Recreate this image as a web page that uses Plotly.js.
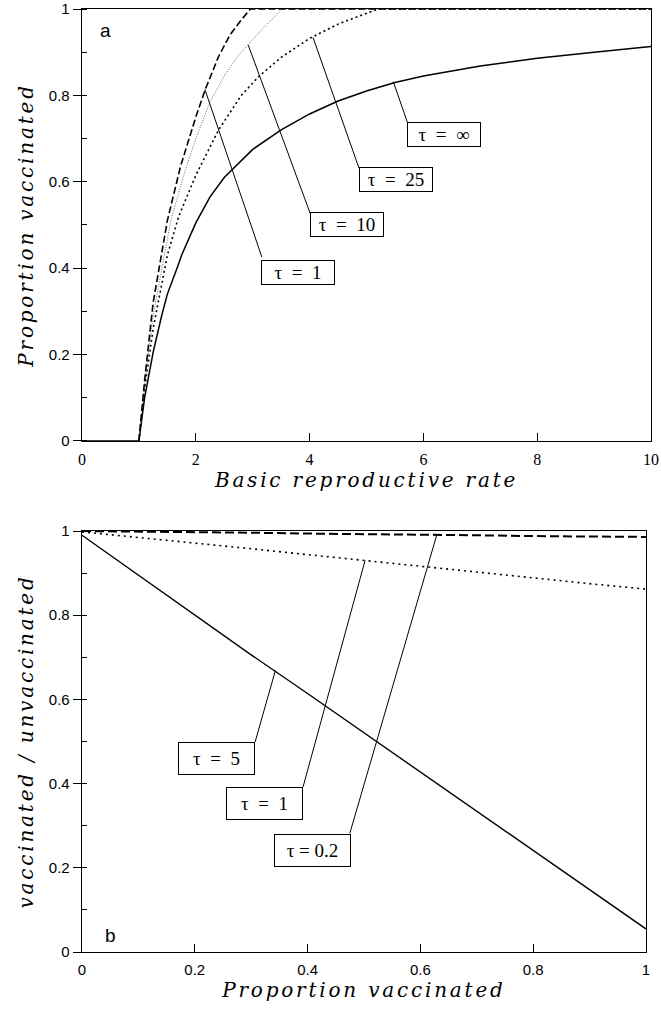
<!DOCTYPE html>
<html>
<head>
<meta charset="utf-8">
<script src="https://cdn.plot.ly/plotly-3.0.1.min.js"></script>
<style>
  html, body { margin: 0; padding: 0; background: #fff; }
  #chart { width: 661px; height: 1010px; }
  text.xtitle, text.x2title, text.ytitle, text.y2title { letter-spacing: 2.8px; }
</style>
</head>
<body>
<div id="chart"></div>
<script>
// ---------- Panel a : proportion vaccinated vs basic reproductive rate ----------
const a_R0_tauInf = [0, 1, 1.1, 1.25, 1.4, 1.5, 1.67, 1.75, 2, 2.25, 2.5, 3, 3.5, 4, 4.5, 5, 5.5, 6, 7, 8, 9, 10];
const a_P_tauInf  = [0, 0, 0.10, 0.205, 0.29, 0.34, 0.40, 0.43, 0.505, 0.565, 0.61, 0.675, 0.72, 0.757, 0.787, 0.81, 0.83, 0.845, 0.868, 0.886, 0.90, 0.913];

const a_R0_tau25 = [1, 1.1, 1.25, 1.5, 1.7, 2, 2.4, 2.8, 3.1, 3.5, 4, 4.5, 5, 5.2, 10];
const a_P_tau25  = [0, 0.12, 0.26, 0.43, 0.52, 0.615, 0.72, 0.80, 0.843, 0.888, 0.932, 0.965, 0.99, 1, 1];

const a_R0_tau10 = [1, 1.1, 1.25, 1.56, 1.8, 2, 2.25, 2.5, 2.75, 2.92, 3.2, 3.52, 10];
const a_P_tau10  = [0, 0.13, 0.29, 0.51, 0.62, 0.70, 0.785, 0.845, 0.893, 0.917, 0.958, 1, 1];

const a_R0_tau1 = [1, 1.1, 1.25, 1.5, 1.73, 2, 2.17, 2.4, 2.6, 2.8, 2.96, 10];
const a_P_tau1  = [0, 0.14, 0.32, 0.51, 0.635, 0.75, 0.815, 0.89, 0.94, 0.975, 1, 1];

// labels of panel a: text, box centre, leader (box corner -> curve point)
const a_labels      = ['τ  =  1', 'τ  =  10', 'τ  =  25', 'τ  =  ∞'];
const a_labelX      = [3.79, 4.66, 5.52, 6.37];
const a_labelY      = [0.389, 0.50, 0.605, 0.710];
const a_leadFromX   = [3.16, 4.01, 4.87, 5.72];
const a_leadFromY   = [0.426, 0.527, 0.631, 0.737];
const a_leadToX     = [2.16, 2.92, 4.06, 5.47];
const a_leadToY     = [0.814, 0.917, 0.934, 0.832];

// ---------- Panel b : vaccinated / unvaccinated vs proportion vaccinated ----------
const b_P = [0, 0.1, 0.2, 0.3, 0.4, 0.5, 0.6, 0.7, 0.8, 0.9, 1.0];
const b_tau5  = [0.99, 0.895, 0.80, 0.706, 0.614, 0.521, 0.428, 0.336, 0.243, 0.149, 0.055];
const b_tau1  = [0.998, 0.985, 0.972, 0.958, 0.944, 0.93, 0.916, 0.902, 0.888, 0.875, 0.862];
const b_tau02 = [1.0, 0.999, 0.997, 0.996, 0.994, 0.993, 0.991, 0.99, 0.988, 0.987, 0.986];

const b_labels      = ['τ  =  5', 'τ  =  1', 'τ = 0.2'];
const b_labelX      = [0.238, 0.323, 0.408];
const b_labelY      = [0.459, 0.352, 0.242];
const b_leadFromX   = [0.307, 0.392, 0.475];
const b_leadFromY   = [0.499, 0.392, 0.282];
const b_leadToX     = [0.343, 0.502, 0.629];
const b_leadToY     = [0.669, 0.930, 0.990];

const K = 'black';
function line(x, y, xa, ya, w, dash, color) {
  return {x: x, y: y, xaxis: xa, yaxis: ya, type: 'scatter', mode: 'lines',
          line: {color: color || K, width: w, dash: dash || 'solid'},
          hoverinfo: 'skip', showlegend: false, cliponaxis: true};
}

const traces = [
  line(a_R0_tauInf, a_P_tauInf, 'x', 'y', 1.5),
  line(a_R0_tau25, a_P_tau25, 'x', 'y', 1.6, '2px,3px'),
  line(a_R0_tau10, a_P_tau10, 'x', 'y', 0.9, '1px,1.5px', '#555'),
  line(a_R0_tau1, a_P_tau1, 'x', 'y', 1.6, '7px,3px'),
  line(b_P, b_tau5, 'x2', 'y2', 1.4),
  line(b_P, b_tau1, 'x2', 'y2', 1.6, '2px,4px'),
  line(b_P, b_tau02, 'x2', 'y2', 2, '9px,4px'),
];
for (let i = 0; i < a_labels.length; i++) {
  traces.push(line([a_leadFromX[i], a_leadToX[i]], [a_leadFromY[i], a_leadToY[i]], 'x', 'y', 1));
}
for (let i = 0; i < b_labels.length; i++) {
  traces.push(line([b_leadFromX[i], b_leadToX[i]], [b_leadFromY[i], b_leadToY[i]], 'x2', 'y2', 1));
}

const labelFont = {family: 'Liberation Serif', size: 19, color: K};
const annotations = [];
for (let i = 0; i < a_labels.length; i++) {
  annotations.push({x: a_labelX[i], y: a_labelY[i], xref: 'x', yref: 'y', text: a_labels[i],
    showarrow: false, font: labelFont,
    bgcolor: 'white', bordercolor: K, borderwidth: 1, borderpad: 3, width: 66, height: 17});
}
for (let i = 0; i < b_labels.length; i++) {
  annotations.push({x: b_labelX[i], y: b_labelY[i], xref: 'x2', yref: 'y2', text: b_labels[i],
    showarrow: false, font: labelFont,
    bgcolor: 'white', bordercolor: K, borderwidth: 1, borderpad: 6, width: 63, height: 19});
}
annotations.push({x: 0.42, y: 0.95, xref: 'x', yref: 'y', text: 'a', showarrow: false,
  font: {family: 'Liberation Sans', size: 19, color: K}});
annotations.push({x: 0.05, y: 0.04, xref: 'x2', yref: 'y2', text: 'b', showarrow: false,
  font: {family: 'Liberation Sans', size: 19, color: K}});

const titleFont = {family: 'DejaVu Serif', style: 'italic', size: 20, color: K};
const sansTick = {family: 'Liberation Sans', size: 15, color: K};
const serifTick = {family: 'Liberation Serif', size: 16, color: K};

function axisCommon() {
  return {showline: true, mirror: true, linecolor: K, linewidth: 1.3, showgrid: false,
          zeroline: false, tickcolor: K, tickwidth: 1, fixedrange: true};
}

const layout = {
  width: 661, height: 1010,
  margin: {l: 82, r: 10, t: 9, b: 58},
  paper_bgcolor: 'white', plot_bgcolor: 'white',
  showlegend: false,
  xaxis: Object.assign(axisCommon(), {
    domain: [0, 1], anchor: 'y', range: [0, 10], dtick: 2, tick0: 0,
    ticks: 'inside', ticklen: 8, tickfont: serifTick, ticklabelstandoff: 4,
    title: {text: 'Basic reproductive rate', font: titleFont, standoff: 5}
  }),
  yaxis: Object.assign(axisCommon(), {
    domain: [0.5419, 1], anchor: 'x', range: [0, 1], dtick: 0.2, tick0: 0,
    ticks: 'outside', ticklen: 8, tickfont: sansTick,
    minor: {dtick: 0.1, ticks: 'inside', ticklen: 5, tickcolor: K, tickwidth: 1},
    title: {text: 'Proportion vaccinated', font: titleFont, standoff: 9}
  }),
  xaxis2: Object.assign(axisCommon(), {
    domain: [0, 0.991], anchor: 'y2', range: [0, 1], dtick: 0.2, tick0: 0,
    ticks: 'inside', ticklen: 8, tickfont: sansTick, ticklabelstandoff: 4,
    title: {text: 'Proportion vaccinated', font: titleFont, standoff: 5}
  }),
  yaxis2: Object.assign(axisCommon(), {
    domain: [0, 0.4464], anchor: 'x2', range: [0, 1], dtick: 0.2, tick0: 0,
    ticks: 'outside', ticklen: 8, tickfont: sansTick,
    minor: {dtick: 0.1, ticks: 'inside', ticklen: 5, tickcolor: K, tickwidth: 1},
    title: {text: 'vaccinated / unvaccinated', font: titleFont, standoff: 9}
  }),
  annotations: annotations
};

Plotly.newPlot('chart', traces, layout, {staticPlot: true, displayModeBar: false});
</script>
</body>
</html>
